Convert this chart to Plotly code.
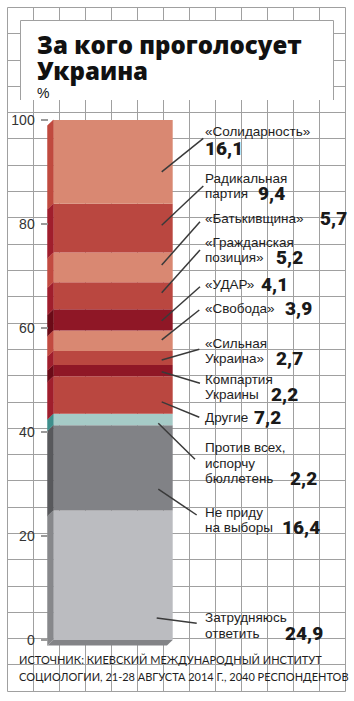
import plotly.graph_objects as go

# ---------------- data ----------------
categories = ["Затрудняюсь ответить", "Не приду на выборы", "Против всех, испорчу бюллетень",
              "Другие", "Компартия Украины", "«Сильная Украина»", "«Свобода»", "«УДАР»",
              "«Гражданская позиция»", "«Батькивщина»", "Радикальная партия", "«Солидарность»"]
values = [24.9, 16.4, 2.2, 7.2, 2.2, 2.7, 3.9, 4.1, 5.2, 5.7, 9.4, 16.1]
label_lines = [["Затрудняюсь", "ответить"], ["Не приду", "на выборы"],
               ["Против всех,", "испорчу", "бюллетень"], ["Другие"], ["Компартия", "Украины"],
               ["«Сильная", "Украина»"], ["«Свобода»"], ["«УДАР»"], ["«Гражданская", "позиция»"],
               ["«Батькивщина»"], ["Радикальная", "партия"], ["«Солидарность»"]]
y_ticks = [0, 20, 40, 60, 80, 100]
title_lines = ["За кого проголосует", "Украина"]
unit = "%"
source_lines = ["ИСТОЧНИК: КИЕВСКИЙ МЕЖДУНАРОДНЫЙ ИНСТИТУТ",
                "СОЦИОЛОГИИ, 21-28 АВГУСТА 2014 Г., 2040 РЕСПОНДЕНТОВ"]

# ---------------- styles / layout ----------------
front_colors = ["#BBBCC0", "#818286", "#A6CBC7", "#BA4740", "#8F1726", "#BA4740",
                "#D98872", "#8F1726", "#BA4740", "#D98872", "#BA4740", "#D98872"]
side_colors = ["#87888B", "#58595C", "#3F8F8C", "#A01E2D", "#6B0A17", "#A01E2D",
               "#C24B41", "#6B0A17", "#A01E2D", "#C24B41", "#A01E2D", "#C04A3F"]
bottom_color = "#838487"
grid_color = "#A0A0A0"

W, H = 354, 701
Y0PX, YS = 640.0, 5.2        # pixel of value 0, pixels per unit
XC, XS = 113.0, 119.4        # pixel of bar centre, pixels per x unit
DXPX, DYPX = 5.8, 5.6        # 3D depth offset in pixels
GRID_X0, GRID_DX, GRID_NX = 7, 26.0, 13
GRID_Y0, GRID_DY, GRID_NY = 7, 26.3, 26
TITLE_BOX_PX = (20.5, 20.5, 333.5, 100)   # left, top, right, bottom


def px2x(px):
    return (px - XC) / XS


def py2y(py):
    return (Y0PX - py) / YS


# label layout (pixel positions)
line_y_px = [[617, 633], [512, 527], [447, 463, 478], [417], [379, 394], [343, 358], [308],
             [284], [242, 257], [218], [178, 193], [131]]
num_pos_px = [(283, 633), (280, 527), (288, 478), (252, 417), (269, 394), (274, 358),
              (283, 308), (259, 284), (274, 257), (318, 218), (256, 193), (203, 148)]
anchor_frac = [0.17, 0.25, 0.17, 0.32, 0.41, 0.35, 0.54, 0.46, 0.61, 0.58, 0.56, 0.38]
anchor_x_px = [156.7, 158.3, 158.3, 161.7, 161.7, 161.7, 161.7, 161.7, 161.7, 161.7, 161.7, 161.7]
end_px = [(196.7, 623.3), (196.7, 515), (195, 459.3), (199.3, 417.3), (200, 383.3),
          (199.3, 349.3), (199.3, 310), (200, 286.7), (200, 250), (200, 221.7),
          (203.3, 186), (203.3, 138.3)]
label_x_px = 203

bases = []
acc = 0.0
for v in values:
    bases.append(acc)
    acc += v

fig = go.Figure()
shapes = []
annotations = []

# ---- background grid (decoration), below all traces, snapped to pixel centres ----
gx_list = [round(GRID_X0 + GRID_DX * k) + 0.5 for k in range(GRID_NX + 1)]
gy_list = [round(GRID_Y0 + GRID_DY * k) + 0.5 for k in range(GRID_NY + 1)]
for gx in gx_list:
    shapes.append(dict(type="line", xref="x", yref="y", x0=px2x(gx), x1=px2x(gx),
                       y0=py2y(gy_list[0]), y1=py2y(gy_list[-1]),
                       line=dict(color=grid_color, width=1), layer="between"))
for gy in gy_list:
    shapes.append(dict(type="line", xref="x", yref="y", x0=px2x(gx_list[0]),
                       x1=px2x(gx_list[-1]), y0=py2y(gy), y1=py2y(gy),
                       line=dict(color=grid_color, width=1), layer="between"))

# title box: white panel with a grey border, open at the bottom
bl, bt, br, bb = TITLE_BOX_PX
shapes.append(dict(type="rect", xref="x", yref="y", x0=px2x(bl), x1=px2x(br),
                   y0=py2y(bb), y1=py2y(bt), fillcolor="white", line=dict(width=0),
                   layer="between"))
shapes.append(dict(type="path", xref="x", yref="y",
                   path=(f"M{px2x(bl)},{py2y(bb)} L{px2x(bl)},{py2y(bt)} "
                         f"L{px2x(br)},{py2y(bt)} L{px2x(br)},{py2y(bb)}"),
                   line=dict(color=grid_color, width=1), layer="between"))

DX = DXPX / XS
DY = DYPX / YS

# bottom face
fig.add_trace(go.Scatter(
    x=[-0.5, 0.5, 0.5 - DX, -0.5 - DX], y=[0, 0, -DY, -DY], fill="toself", mode="lines",
    line=dict(width=0), fillcolor=bottom_color, hoverinfo="skip", showlegend=False))

# side faces
for b, v, c in zip(bases, values, side_colors):
    fig.add_trace(go.Scatter(
        x=[-0.5, -0.5, -0.5 - DX, -0.5 - DX], y=[b, b + v, b + v - DY, b - DY],
        fill="toself", mode="lines", line=dict(width=0.5, color=c), fillcolor=c,
        hoverinfo="skip", showlegend=False))

# front faces
fig.add_trace(go.Bar(
    x=[0] * len(values), y=values, base=bases, width=1,
    marker=dict(color=front_colors, line=dict(width=0)),
    hovertext=categories, hoverinfo="text", showlegend=False))

# leader lines + labels
for i, v in enumerate(values):
    ay = bases[i] + anchor_frac[i] * v
    ex, ey = end_px[i]
    shapes.append(dict(type="line", xref="x", yref="y",
                       x0=px2x(anchor_x_px[i]), y0=ay, x1=px2x(ex), y1=py2y(ey),
                       line=dict(color="#3A3A3A", width=1.5), layer="above"))
    for txt, ly in zip(label_lines[i], line_y_px[i]):
        annotations.append(dict(xref="x", yref="y", x=px2x(label_x_px), y=py2y(ly),
                                text=txt, showarrow=False, xanchor="left", yanchor="middle",
                                font=dict(family="Liberation Sans, Arial, sans-serif",
                                          size=13.5, color="#1E1E1E")))
    nx, ny = num_pos_px[i]
    annotations.append(dict(xref="x", yref="y", x=px2x(nx), y=py2y(ny),
                            text=f"{v:.1f}".replace(".", ","), showarrow=False,
                            xanchor="left", yanchor="middle",
                            font=dict(family="Roboto, Liberation Sans, sans-serif",
                                      size=19, color="#1A1A1A", weight=900)))

for txt, cy in zip(title_lines, [45, 70]):
    annotations.append(dict(xref="paper", yref="paper", x=35 / W, y=1 - cy / H, text=txt,
                            showarrow=False, xanchor="left", yanchor="middle",
                            font=dict(family="Open Sans, Roboto, sans-serif", size=24,
                                      color="#111111", weight=800)))
annotations.append(dict(xref="paper", yref="paper", x=35 / W, y=1 - 93 / H, text=unit,
                        showarrow=False, xanchor="left", yanchor="middle",
                        font=dict(family="Liberation Sans, Arial, sans-serif", size=14,
                                  color="#111111")))
for txt, cy in zip(source_lines, [659.5, 676]):
    annotations.append(dict(xref="paper", yref="paper", x=17 / W, y=1 - cy / H, text=txt,
                            showarrow=False, xanchor="left", yanchor="middle",
                            font=dict(family="Lato, Roboto, sans-serif",
                                      size=11, color="#1E1E1E")))

fig.update_layout(
    width=W, height=H, margin=dict(l=0, r=0, t=0, b=0),
    paper_bgcolor="white", plot_bgcolor="white",
    showlegend=False, shapes=shapes, annotations=annotations,
    xaxis=dict(domain=[0, 1], range=[px2x(0), px2x(W)], visible=False, fixedrange=True),
    yaxis=dict(domain=[0, 1], range=[py2y(H), py2y(0)], anchor="free", position=47.5 / W,
               tickvals=y_ticks, ticktext=[str(t) for t in y_ticks], ticks="outside",
               ticklen=7, tickwidth=2, tickcolor="#9A9A9A", showline=False, showgrid=False,
               zeroline=False, ticklabelstandoff=3,
               tickfont=dict(family="Liberation Sans, Arial, sans-serif", size=14,
                             color="#333333"), fixedrange=True),
)

fig.write_html("out.html")
